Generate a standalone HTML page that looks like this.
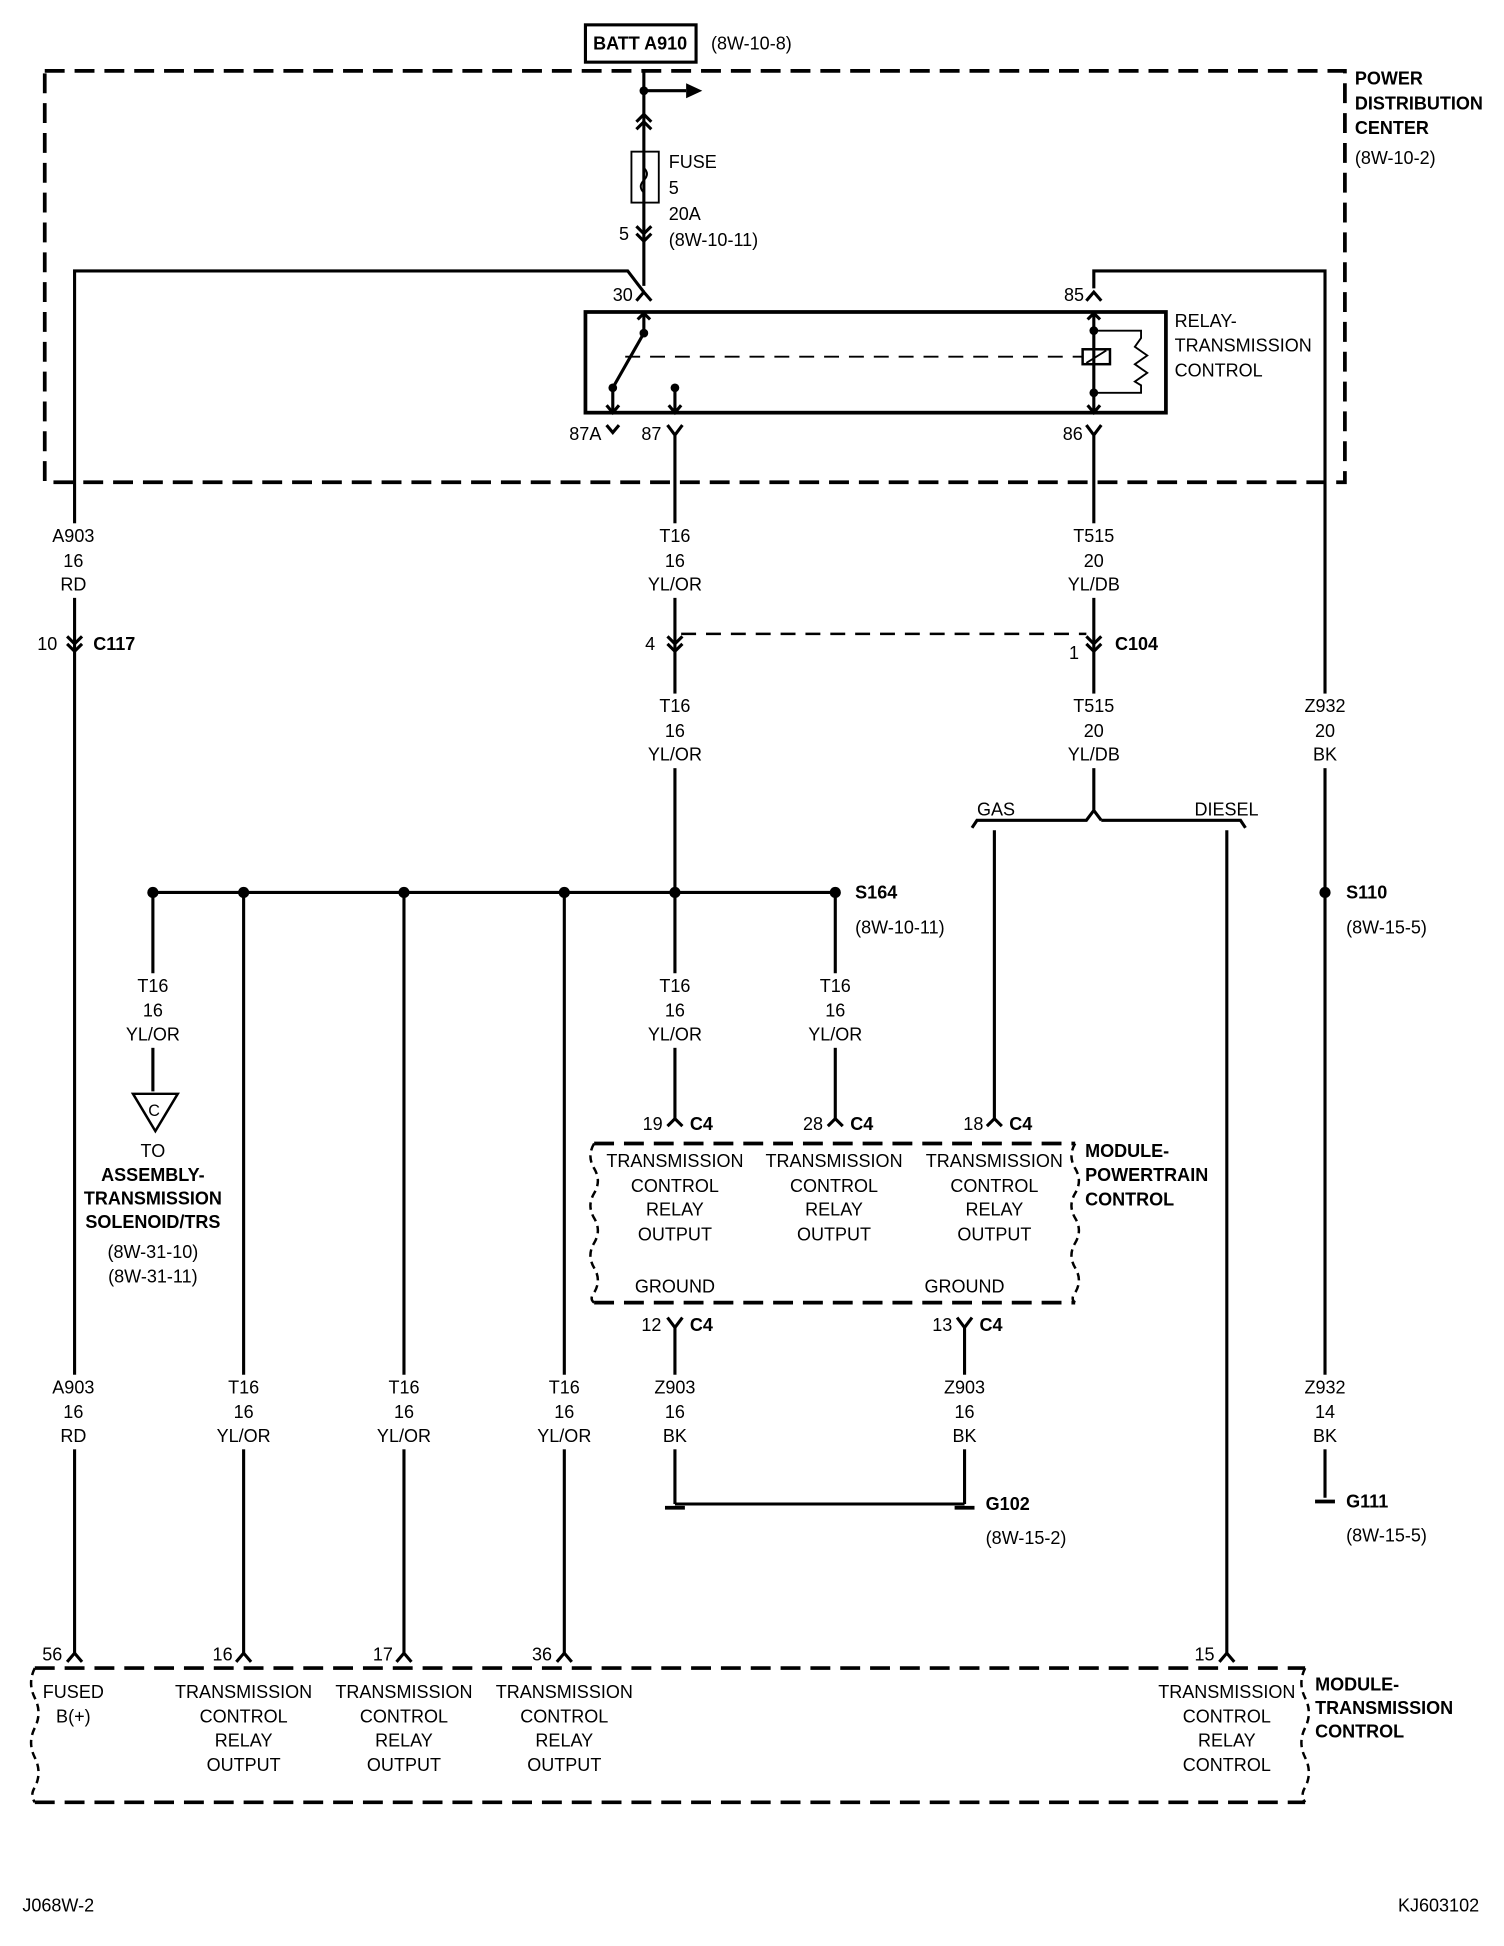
<!DOCTYPE html>
<html><head><meta charset="utf-8"><style>
html,body{margin:0;padding:0;background:#fff}
svg{display:block}
text{font-family:"Liberation Sans Narrow","Liberation Sans",sans-serif;font-size:14.5px;fill:#000}
.b{font-weight:bold}
.m{text-anchor:middle}
</style></head><body>
<svg width="1504" height="1946" viewBox="0 0 1210 1565.6" preserveAspectRatio="none" xmlns="http://www.w3.org/2000/svg">
<g fill="none" stroke="#000" stroke-width="2.5">
<rect x="36" y="57" width="1046" height="331" stroke-dasharray="16 8" stroke-width="3"/>
<rect x="471" y="20" width="89" height="30" stroke-width="2.5"/>
<path d="M518 57V230"/>
<path d="M518 73H552"/>
<path d="M512 98L518 92L524 98M512 104L518 98L524 104"/>
<rect x="508" y="122" width="22" height="41" stroke-width="1.5"/>
<path d="M518 135q5 5 0 10q-5 5 0 10" stroke-width="1.5"/>
<path d="M512 182L518 188L524 182M512 188L518 194L524 188"/>
<path d="M512 242L518 235L524 242"/>
<path d="M60 1330V218H505L518 235"/>
<rect x="471" y="251" width="467" height="81" stroke-width="3"/>
<path d="M518 251V268L493 312V332"/>
<path d="M513 257L518 252L523 257"/>
<path d="M488 326L493 332L498 326"/>
<path d="M543 312V332M538 326L543 332L548 326"/>
<path d="M503 287H871" stroke-dasharray="12 8" stroke-width="1.5"/>
<path d="M880 251V332M875 257L880 252L885 257M875 326L880 332L885 326"/>
<rect x="871" y="281" width="22" height="12" stroke-width="2"/>
<path d="M874 292L890 282" stroke-width="1.5"/>
<path d="M880 266H918V272L913 279L923 286L913 293L923 300L913 307L918 310V316H880" stroke-width="1.5"/>
<path d="M880 232V218H1066V1205"/>
<path d="M874 242L880 235L886 242"/>
<path d="M488 342L493 348L498 342"/>
<path d="M537 342L543 350L549 342M543 350V718"/>
<path d="M874 342L880 350L886 342M880 350V640"/>
<path d="M537 512L543 518L549 512M537 518L543 524L549 518"/>
<path d="M874 512L880 518L886 512M874 518L880 524L886 518"/>
<path d="M548 510H874" stroke-dasharray="12 8" stroke-width="2"/>
<path d="M54 512L60 518L66 512M54 518L60 524L66 518"/>
<path d="M880 640V652L874 660H786L782 666M886 660H998L1002 666M880 652L886 660"/>
<path d="M800 668V900M987 668V1330"/>
<path d="M123 718H672"/>
<path d="M123 718V878M196 718V1330M325 718V1330M454 718V1330M543 718V900M672 718V900"/>
<path d="M107 880H143L125 910Z" stroke-width="2"/>
<path d="M537 906L543 900L549 906M666 906L672 900L678 906M794 906L800 900L806 906"/>
<path d="M478 920H865M478 1048H865" stroke-dasharray="16 8" stroke-width="3"/>
<path d="M478 920q-6 10 0 20q6 10 0 20q-6 10 0 20q6 10 0 20q-6 10 0 20q6 10 0 20q-4 5 0 8" stroke-dasharray="6 4" stroke-width="2"/>
<path d="M865 920q-6 10 0 20q6 10 0 20q-6 10 0 20q6 10 0 20q-6 10 0 20q6 10 0 20q-4 5 0 8" stroke-dasharray="6 4" stroke-width="2"/>
<path d="M537 1060L543 1068L549 1060M543 1068V1210M770 1060L776 1068L782 1060M776 1068V1210"/>
<path d="M543 1210H776"/>
<path d="M535 1213H551M768 1213H784M1058 1208H1074" stroke-width="3"/>
<path d="M54 1337L60 1330L66 1337M190 1337L196 1330L202 1337M319 1337L325 1330L331 1337M448 1337L454 1330L460 1337M981 1337L987 1330L993 1337"/>
<path d="M28 1342H1050M28 1450H1050" stroke-dasharray="16 8" stroke-width="3"/>
<path d="M28 1342q-6 12 0 24q6 12 0 24q-6 12 0 24q6 12 0 24q-4 6 0 12" stroke-dasharray="6 4" stroke-width="2"/>
<path d="M1050 1342q-6 12 0 24q6 12 0 24q-6 12 0 24q6 12 0 24q-4 6 0 12" stroke-dasharray="6 4" stroke-width="2"/>
</g>
<g fill="#fff">
<rect x="55" y="421" width="10" height="60"/><rect x="538" y="421" width="10" height="60"/><rect x="875" y="421" width="10" height="60"/>
<rect x="538" y="558" width="10" height="60"/><rect x="875" y="558" width="10" height="60"/><rect x="1061" y="558" width="10" height="60"/>
<rect x="118" y="783" width="10" height="60"/><rect x="538" y="783" width="10" height="60"/><rect x="667" y="783" width="10" height="60"/>
<rect x="55" y="1106" width="10" height="60"/><rect x="191" y="1106" width="10" height="60"/><rect x="320" y="1106" width="10" height="60"/><rect x="449" y="1106" width="10" height="60"/><rect x="538" y="1106" width="10" height="60"/><rect x="771" y="1106" width="10" height="60"/><rect x="1061" y="1106" width="10" height="60"/>
</g>
<g fill="#000">
<path d="M552 67L565 73L552 79Z"/>
<circle cx="518" cy="73" r="3.5"/>
<circle cx="518" cy="268" r="3.5"/><circle cx="493" cy="312" r="3.5"/><circle cx="543" cy="312" r="3.5"/>
<circle cx="880" cy="266" r="3.5"/><circle cx="880" cy="316" r="3.5"/>
<circle cx="123" cy="718" r="4.5"/><circle cx="196" cy="718" r="4.5"/><circle cx="325" cy="718" r="4.5"/><circle cx="454" cy="718" r="4.5"/><circle cx="543" cy="718" r="4.5"/><circle cx="672" cy="718" r="4.5"/>
<circle cx="1066" cy="718" r="4.5"/>
</g>
<text x="515" y="40" class="b m">BATT A910</text>
<text x="572" y="40">(8W-10-8)</text>
<text x="1090" y="68" class="b">POWER</text><text x="1090" y="88" class="b">DISTRIBUTION</text><text x="1090" y="108" class="b">CENTER</text><text x="1090" y="132">(8W-10-2)</text>
<text x="538" y="135">FUSE</text><text x="538" y="156">5</text><text x="538" y="177">20A</text><text x="538" y="198">(8W-10-11)</text>
<text x="498" y="193">5</text>
<text x="493" y="242">30</text><text x="856" y="242">85</text>
<text x="945" y="263">RELAY-</text><text x="945" y="283">TRANSMISSION</text><text x="945" y="303">CONTROL</text>
<text x="458" y="354">87A</text><text x="516" y="354">87</text><text x="855" y="354">86</text>
<text x="59" y="436" class="m">A903</text><text x="59" y="456" class="m">16</text><text x="59" y="475" class="m">RD</text>
<text x="543" y="436" class="m">T16</text><text x="543" y="456" class="m">16</text><text x="543" y="475" class="m">YL/OR</text>
<text x="880" y="436" class="m">T515</text><text x="880" y="456" class="m">20</text><text x="880" y="475" class="m">YL/DB</text>
<text x="543" y="573" class="m">T16</text><text x="543" y="593" class="m">16</text><text x="543" y="612" class="m">YL/OR</text>
<text x="880" y="573" class="m">T515</text><text x="880" y="593" class="m">20</text><text x="880" y="612" class="m">YL/DB</text>
<text x="1066" y="573" class="m">Z932</text><text x="1066" y="593" class="m">20</text><text x="1066" y="612" class="m">BK</text>
<text x="30" y="523">10</text><text x="75" y="523" class="b">C117</text>
<text x="519" y="523">4</text><text x="860" y="530">1</text><text x="897" y="523" class="b">C104</text>
<text x="786" y="656">GAS</text><text x="961" y="656">DIESEL</text>
<text x="688" y="723" class="b">S164</text><text x="688" y="751">(8W-10-11)</text>
<text x="1083" y="723" class="b">S110</text><text x="1083" y="751">(8W-15-5)</text>
<text x="123" y="798" class="m">T16</text><text x="123" y="818" class="m">16</text><text x="123" y="837" class="m">YL/OR</text>
<text x="543" y="798" class="m">T16</text><text x="543" y="818" class="m">16</text><text x="543" y="837" class="m">YL/OR</text>
<text x="672" y="798" class="m">T16</text><text x="672" y="818" class="m">16</text><text x="672" y="837" class="m">YL/OR</text>
<text x="124" y="898" class="m" style="font-size:13px">C</text>
<text x="123" y="931" class="m">TO</text>
<text x="123" y="950" class="m b">ASSEMBLY-</text><text x="123" y="969" class="m b">TRANSMISSION</text><text x="123" y="988" class="m b">SOLENOID/TRS</text>
<text x="123" y="1012" class="m">(8W-31-10)</text><text x="123" y="1032" class="m">(8W-31-11)</text>
<text x="517" y="909">19</text><text x="555" y="909" class="b">C4</text>
<text x="646" y="909">28</text><text x="684" y="909" class="b">C4</text>
<text x="775" y="909">18</text><text x="812" y="909" class="b">C4</text>
<text x="543" y="939" class="m">TRANSMISSION</text><text x="543" y="959" class="m">CONTROL</text><text x="543" y="978" class="m">RELAY</text><text x="543" y="998" class="m">OUTPUT</text>
<text x="671" y="939" class="m">TRANSMISSION</text><text x="671" y="959" class="m">CONTROL</text><text x="671" y="978" class="m">RELAY</text><text x="671" y="998" class="m">OUTPUT</text>
<text x="800" y="939" class="m">TRANSMISSION</text><text x="800" y="959" class="m">CONTROL</text><text x="800" y="978" class="m">RELAY</text><text x="800" y="998" class="m">OUTPUT</text>
<text x="873" y="931" class="b">MODULE-</text><text x="873" y="950" class="b">POWERTRAIN</text><text x="873" y="970" class="b">CONTROL</text>
<text x="543" y="1040" class="m">GROUND</text><text x="776" y="1040" class="m">GROUND</text>
<text x="516" y="1071">12</text><text x="555" y="1071" class="b">C4</text>
<text x="750" y="1071">13</text><text x="788" y="1071" class="b">C4</text>
<text x="59" y="1121" class="m">A903</text><text x="59" y="1141" class="m">16</text><text x="59" y="1160" class="m">RD</text>
<text x="196" y="1121" class="m">T16</text><text x="196" y="1141" class="m">16</text><text x="196" y="1160" class="m">YL/OR</text>
<text x="325" y="1121" class="m">T16</text><text x="325" y="1141" class="m">16</text><text x="325" y="1160" class="m">YL/OR</text>
<text x="454" y="1121" class="m">T16</text><text x="454" y="1141" class="m">16</text><text x="454" y="1160" class="m">YL/OR</text>
<text x="543" y="1121" class="m">Z903</text><text x="543" y="1141" class="m">16</text><text x="543" y="1160" class="m">BK</text>
<text x="776" y="1121" class="m">Z903</text><text x="776" y="1141" class="m">16</text><text x="776" y="1160" class="m">BK</text>
<text x="1066" y="1121" class="m">Z932</text><text x="1066" y="1141" class="m">14</text><text x="1066" y="1160" class="m">BK</text>
<text x="793" y="1215" class="b">G102</text><text x="793" y="1242">(8W-15-2)</text>
<text x="1083" y="1213" class="b">G111</text><text x="1083" y="1240">(8W-15-5)</text>
<text x="34" y="1336">56</text><text x="171" y="1336">16</text><text x="300" y="1336">17</text><text x="428" y="1336">36</text><text x="961" y="1336">15</text>
<text x="59" y="1366" class="m">FUSED</text><text x="59" y="1386" class="m">B(+)</text>
<text x="196" y="1366" class="m">TRANSMISSION</text><text x="196" y="1386" class="m">CONTROL</text><text x="196" y="1405" class="m">RELAY</text><text x="196" y="1425" class="m">OUTPUT</text>
<text x="325" y="1366" class="m">TRANSMISSION</text><text x="325" y="1386" class="m">CONTROL</text><text x="325" y="1405" class="m">RELAY</text><text x="325" y="1425" class="m">OUTPUT</text>
<text x="454" y="1366" class="m">TRANSMISSION</text><text x="454" y="1386" class="m">CONTROL</text><text x="454" y="1405" class="m">RELAY</text><text x="454" y="1425" class="m">OUTPUT</text>
<text x="987" y="1366" class="m">TRANSMISSION</text><text x="987" y="1386" class="m">CONTROL</text><text x="987" y="1405" class="m">RELAY</text><text x="987" y="1425" class="m">CONTROL</text>
<text x="1058" y="1360" class="b">MODULE-</text><text x="1058" y="1379" class="b">TRANSMISSION</text><text x="1058" y="1398" class="b">CONTROL</text>
<text x="18" y="1538">J068W-2</text>
<text x="1190" y="1538" style="text-anchor:end">KJ603102</text>
</svg>
</body></html>
